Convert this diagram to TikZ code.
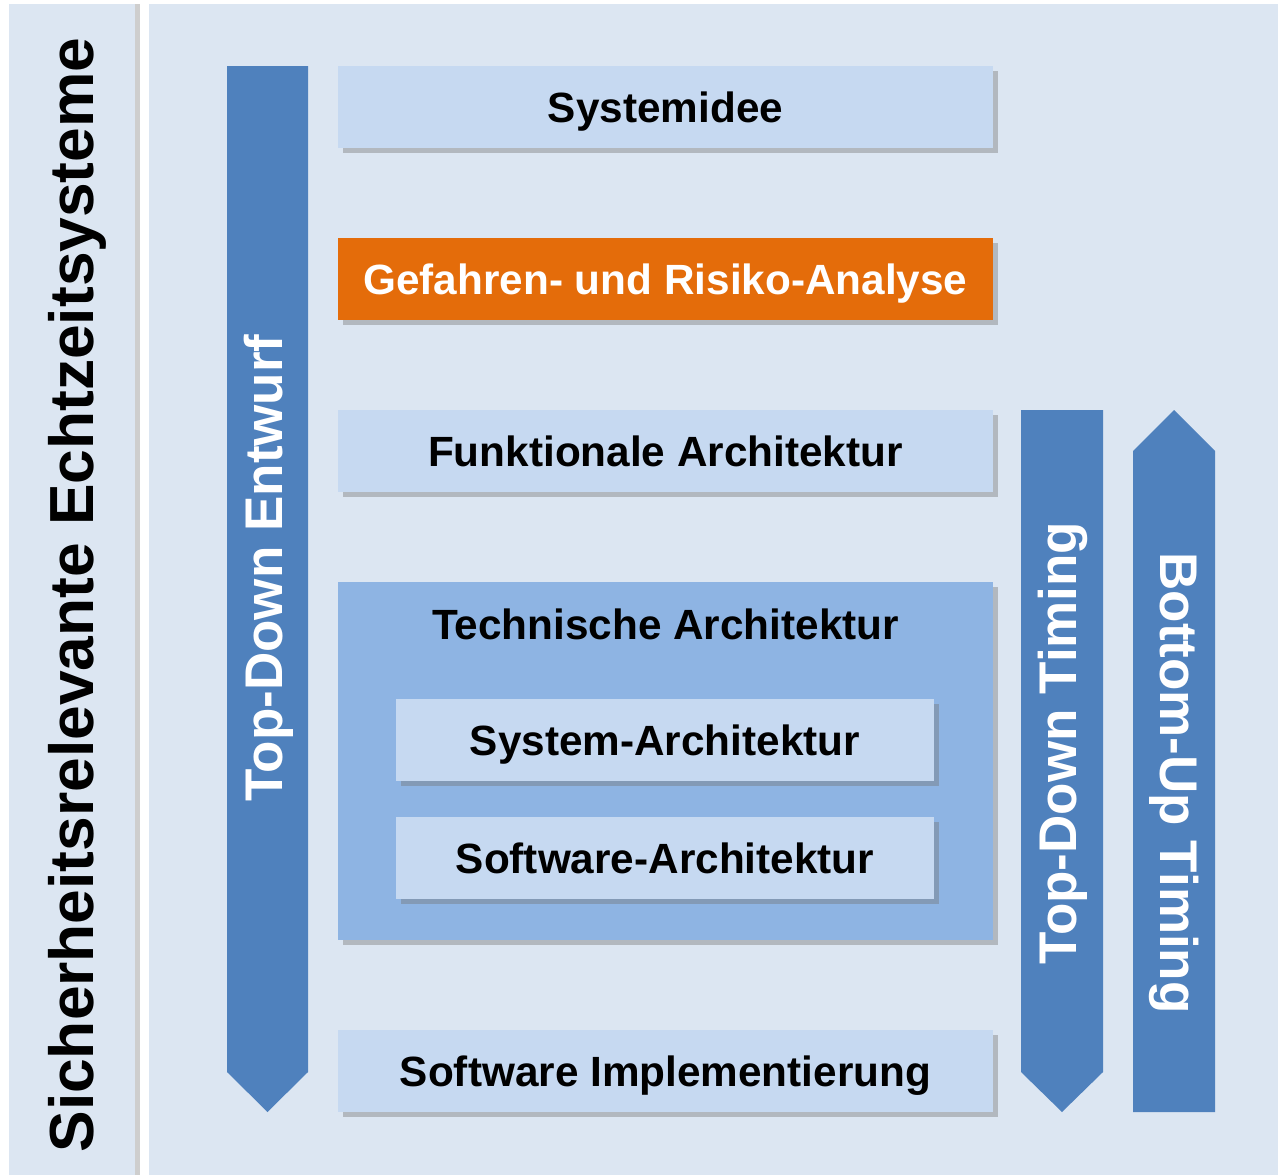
\documentclass[tikz,border=0pt]{standalone}
\usepackage{fontspec}
\setmainfont{Liberation Sans}
\usetikzlibrary{shadows}
\definecolor{panelc}{HTML}{DCE6F2}
\definecolor{boxc}{HTML}{C6D9F1}
\definecolor{contc}{HTML}{8EB4E3}
\definecolor{arrowc}{HTML}{4F81BD}
\definecolor{orangec}{HTML}{E46C0A}
\begin{document}
\begin{tikzpicture}[x=1pt,y=-1pt,
  shad/.style={drop shadow={shadow xshift=5pt,shadow yshift=-5pt,fill=black!55,opacity=0.4}},
  boxbase/.style={shape=rectangle,inner sep=0pt,font=\bfseries\fontsize{42.3}{50}\selectfont,shad,text height=31pt,text depth=0pt},
  box/.style={boxbase,fill=boxc,minimum width=655pt,minimum height=82pt},
  subbox/.style={boxbase,fill=boxc,minimum width=538pt,minimum height=82pt},
  hot/.style={boxbase,fill=orangec,text=white,minimum width=655pt,minimum height=82pt},
  vlabel/.style={inner sep=0pt,font=\bfseries\fontsize{53}{60}\selectfont,text=white},
  arrowshape/.style={fill=arrowc}
]
\useasboundingbox (0,0) rectangle (1278,1175);
\fill[white] (0,0) rectangle (1278,1175);
% panels
\path[fill=panelc,drop shadow={shadow xshift=5pt,shadow yshift=0pt,fill=black!55,opacity=0.35}] (9,4) rectangle (135,1175);
\fill[panelc] (149,4) rectangle (1278,1175);
\node[inner sep=0pt,rotate=90,font=\bfseries\fontsize{62.3}{70}\selectfont] (title) at (77,595) {Sicherheitsrelevante Echtzeitsysteme};
% arrows
\fill[arrowshape] (227,66) -- (308,66) -- (308,1072) -- (267.5,1112) -- (227,1072) -- cycle;
\fill[arrowshape] (1021,410) -- (1103,410) -- (1103,1072) -- (1062,1112) -- (1021,1072) -- cycle;
\fill[arrowshape] (1133,1112) -- (1215,1112) -- (1215,451) -- (1174,410) -- (1133,451) -- cycle;
\node[vlabel,rotate=90] (tde) at (268.5,568) {Top-Down Entwurf};
\node[vlabel,rotate=90] (tdt) at (1063,743) {Top-Down Timing};
\node[vlabel,rotate=-90] (but) at (1174,783) {Bottom-Up Timing};
% boxes
\node[box] (idee) at (665.5,107) {Systemidee};
\node[hot] (gefahr) at (665.5,279) {Gefahren- und Risiko-Analyse};
\node[box] (funk) at (665.5,451) {Funktionale Architektur};
\node[boxbase,fill=contc,minimum width=655pt,minimum height=358pt] (tech) at (665.5,761) {};
\node[inner sep=0pt,font=\bfseries\fontsize{42.3}{50}\selectfont,text height=31pt,text depth=0pt] (techt) at (665.5,624) {Technische Architektur};
\node[subbox] (sys) at (665,740) {System-Architektur};
\node[subbox] (soft) at (665,858) {Software-Architektur};
\node[box] (impl) at (665.5,1071) {Software Implementierung};
\end{tikzpicture}
\end{document}
